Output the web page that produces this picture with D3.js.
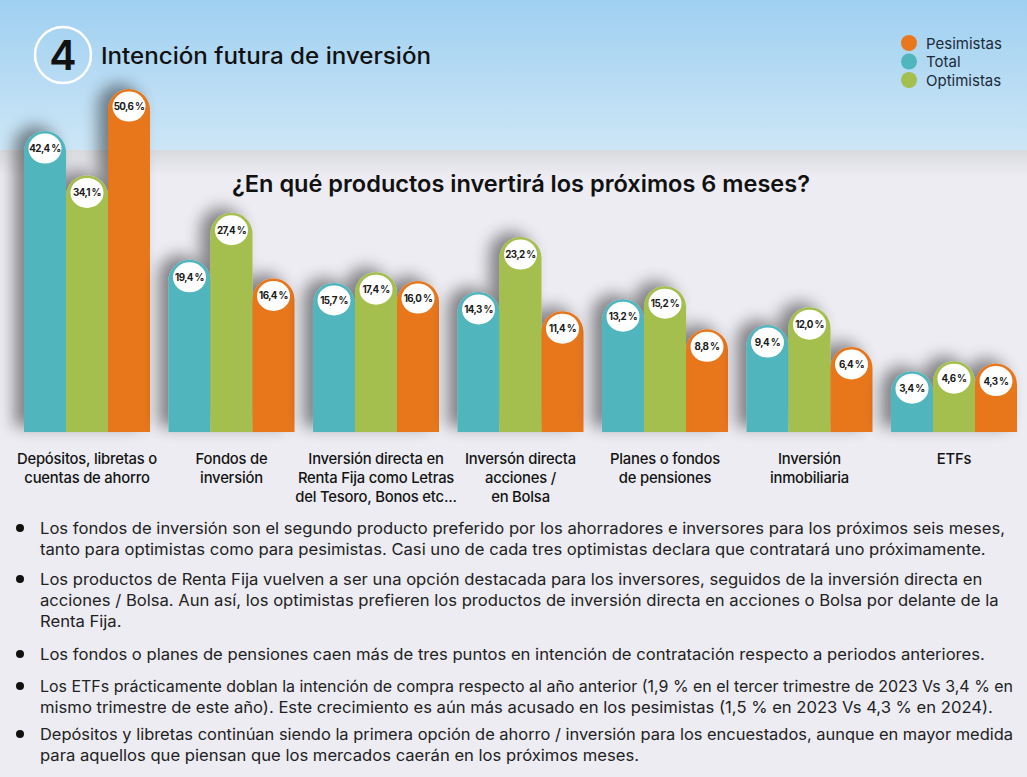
<!DOCTYPE html>
<html><head><meta charset="utf-8">
<script src="https://cdn.jsdelivr.net/npm/d3@7"></script>
<style>
html,body{margin:0;padding:0;background:#ececf2;}
svg{display:block;font-family:Inter,"Noto Sans",sans-serif;}
</style></head>
<body>
<svg id="chart" width="1027" height="777"></svg>
<script>
// ---- DATA ----
const categories = ["Depósitos", "Fondos", "Renta Fija", "Acciones", "Pensiones", "Inmobiliaria", "ETFs"];
const categoryLabels = [
  ["Depósitos, libretas o", "cuentas de ahorro"],
  ["Fondos de", "inversión"],
  ["Inversión directa en", "Renta Fija como Letras", "del Tesoro, Bonos etc..."],
  ["Inversón directa", "acciones /", "en Bolsa"],
  ["Planes o fondos", "de pensiones"],
  ["Inversión", "inmobiliaria"],
  ["ETFs"]
];
const seriesNames = ["Total", "Optimistas", "Pesimistas"];
const totalValues = [42.4, 19.4, 15.7, 14.3, 13.2, 9.4, 3.4];
const optimistasValues = [34.1, 27.4, 17.4, 23.2, 15.2, 12.0, 4.6];
const pesimistasValues = [50.6, 16.4, 16.0, 11.4, 8.8, 6.4, 4.3];
const legendNames = ["Pesimistas", "Total", "Optimistas"];
const titleText = "Intención futura de inversión";
const sectionNumber = "4";
const subtitleText = "¿En qué productos invertirá los próximos 6 meses?";
const bullets = [
  ["Los fondos de inversión son el segundo producto preferido por los ahorradores e inversores para los próximos seis meses,",
   "tanto para optimistas como para pesimistas. Casi uno de cada tres optimistas declara que contratará uno próximamente."],
  ["Los productos de Renta Fija vuelven a ser una opción destacada para los inversores, seguidos de la inversión directa en",
   "acciones / Bolsa. Aun así, los optimistas prefieren los productos de inversión directa en acciones o Bolsa por delante de la",
   "Renta Fija."],
  ["Los fondos o planes de pensiones caen más de tres puntos en intención de contratación respecto a periodos anteriores."],
  ["Los ETFs prácticamente doblan la intención de compra respecto al año anterior (1,9 % en el tercer trimestre de 2023 Vs 3,4 % en",
   "mismo trimestre de este año). Este crecimiento es aún más acusado en los pesimistas (1,5 % en 2023 Vs 4,3 % en 2024)."],
  ["Depósitos y libretas continúan siendo la primera opción de ahorro / inversión para los encuestados, aunque en mayor medida",
   "para aquellos que piensan que los mercados caerán en los próximos meses."]
];

// ---- STYLE ----
const colors = {Total: "#51b5be", Optimistas: "#a4bf4e", Pesimistas: "#e8771e"};
const fmt = v => d3.format(".1f")(v).replace(".", ",") + " %";

const svg = d3.select("#chart");
const W = 1027, H = 777;
const defs = svg.append("defs");

const bgGrad = defs.append("linearGradient").attr("id", "bgTop").attr("x1", 0).attr("y1", 0).attr("x2", 0).attr("y2", 1);
bgGrad.append("stop").attr("offset", "0%").attr("stop-color", "#9fd0f1");
bgGrad.append("stop").attr("offset", "100%").attr("stop-color", "#cde6f6");
const shGrad = defs.append("linearGradient").attr("id", "bandShadow").attr("x1", 0).attr("y1", 0).attr("x2", 0).attr("y2", 1);
shGrad.append("stop").attr("offset", "0%").attr("stop-color", "#d9dade");
shGrad.append("stop").attr("offset", "100%").attr("stop-color", "#ececf2");

const f = defs.append("filter").attr("id", "barShadow").attr("x", "-50%").attr("y", "-50%").attr("width", "200%").attr("height", "200%");
f.append("feGaussianBlur").attr("in", "SourceAlpha").attr("stdDeviation", 8).attr("result", "b");
f.append("feOffset").attr("in", "b").attr("dx", -10).attr("dy", -5).attr("result", "o");
f.append("feComponentTransfer").attr("in", "o").attr("result", "s")
  .append("feFuncA").attr("type", "linear").attr("slope", 0.45);
const m = f.append("feMerge");
m.append("feMergeNode").attr("in", "s");
m.append("feMergeNode").attr("in", "SourceGraphic");

// background
svg.append("rect").attr("width", W).attr("height", H).attr("fill", "#ececf2");
svg.append("rect").attr("x", 0).attr("y", 150).attr("width", W).attr("height", 26).attr("fill", "url(#bandShadow)");
svg.append("rect").attr("width", W).attr("height", 150).attr("fill", "url(#bgTop)");

// header
svg.append("circle").attr("cx", 63).attr("cy", 55).attr("r", 28)
  .attr("fill", "none").attr("stroke", "#fff").attr("stroke-width", 2.5);
svg.append("text").attr("x", 63).attr("y", 70).attr("text-anchor", "middle")
  .attr("font-size", 41).attr("font-weight", 600).attr("fill", "#111").text(sectionNumber);
svg.append("text").attr("x", 101).attr("y", 64)
  .attr("font-size", 22.5).attr("font-weight", 500).attr("fill", "#111")
  .attr("textLength", 330).attr("lengthAdjust", "spacingAndGlyphs").text(titleText);

// legend
const leg = svg.append("g").selectAll("g").data(legendNames).join("g")
  .attr("transform", (d, i) => `translate(909,${43 + i * 18.5})`);
leg.append("circle").attr("r", 8).attr("fill", d => colors[d]);
leg.append("text").attr("x", 17).attr("y", 5.5).attr("font-size", 15).attr("fill", "#1c2a38").text(d => d);

// subtitle
svg.append("text").attr("x", 521).attr("y", 192).attr("text-anchor", "middle")
  .attr("font-size", 23).attr("font-weight", 600).attr("fill", "#111")
  .attr("textLength", 578).attr("lengthAdjust", "spacingAndGlyphs").text(subtitleText);

// scales
const x0 = d3.scaleBand().domain(categories).range([24, 1017]).paddingInner(0.128).paddingOuter(0);
const x1 = d3.scaleBand().domain(seriesNames).range([0, x0.bandwidth()]);
const y = d3.scalePow().exponent(0.8).domain([0, 52]).range([429, 103]);
const baseY = y(0) + 3;

const seriesValues = {Total: totalValues, Optimistas: optimistasValues, Pesimistas: pesimistasValues};
const rows = categories.map((c, i) => ({cat: c, i, vals: seriesNames.map(s => ({s, v: seriesValues[s][i]}))}));

const groups = svg.append("g").selectAll("g").data(rows).join("g")
  .attr("transform", d => `translate(${x0(d.cat)},0)`);

const barsG = groups.append("g").attr("filter", "url(#barShadow)");
barsG.selectAll("path").data(d => d.vals).join("path")
  .attr("fill", d => colors[d.s])
  .attr("d", d => {
    const bw = x1.bandwidth(), r = bw / 2, xl = x1(d.s), top = y(d.v);
    return `M${xl},${baseY} L${xl},${top} A${r},${r} 0 0 1 ${xl + bw},${top} L${xl + bw},${baseY} Z`;
  });

const lab = groups.selectAll("g.lab").data(d => d.vals).join("g").attr("class", "lab")
  .attr("transform", d => `translate(${x1(d.s) + x1.bandwidth() / 2},${y(d.v) - 21 + 17.5})`);
lab.append("ellipse").attr("rx", 16.5).attr("ry", 15).attr("fill", "#fff");
lab.append("text").attr("text-anchor", "middle").attr("y", 3.4)
  .attr("font-size", 9.8).attr("font-weight", 700).attr("letter-spacing", -0.6)
  .attr("fill", "#1a1a1a").text(d => fmt(d.v));

// category labels
groups.append("text").attr("text-anchor", "middle").attr("font-size", 14.8).attr("font-weight", 500)
  .attr("fill", "#141414").attr("letter-spacing", -0.2)
  .selectAll("tspan").data(d => categoryLabels[d.i]).join("tspan")
  .attr("x", x0.bandwidth() / 2).attr("y", (d, i) => 464 + i * 19).text(d => d);

// bullets
const bulletStarts = [534, 585, 660, 692, 740];
const lineH = 21;
const maxLineW = 973;
const bg = svg.append("g");
const probe = bg.append("text").attr("font-size", 16).text(bullets[0][0]);
const k = 965 / probe.node().getComputedTextLength();
probe.remove();
bullets.forEach((lines, bi) => {
  bg.append("circle").attr("cx", 20).attr("cy", bulletStarts[bi] - 6).attr("r", 4).attr("fill", "#111");
  lines.forEach((ln, li) => {
    const t = bg.append("text").attr("x", 40).attr("y", bulletStarts[bi] + li * lineH)
      .attr("font-size", 16).attr("fill", "#222").text(ln);
    const w = t.node().getComputedTextLength();
    t.attr("textLength", Math.min(w * k, maxLineW)).attr("lengthAdjust", "spacingAndGlyphs");
  });
});
</script>
</body></html>
